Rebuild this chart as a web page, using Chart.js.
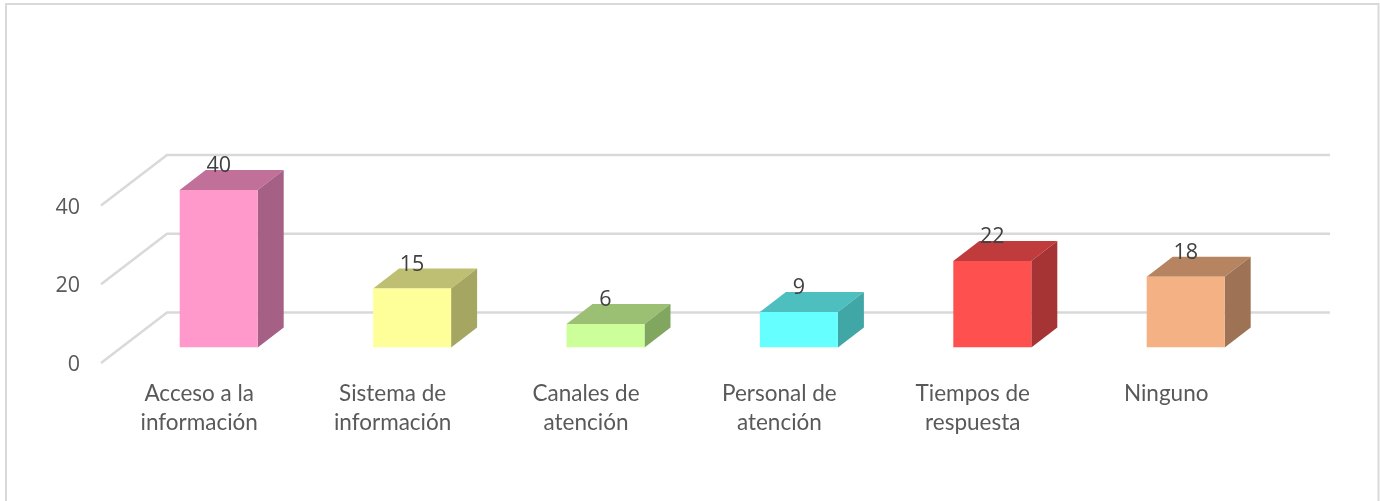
<!DOCTYPE html>
<html>
<head>
<meta charset="utf-8">
<style>
  html, body { margin: 0; padding: 0; background: #fff; overflow: hidden; }
  canvas { display: block; }
</style>
<script src="https://cdn.jsdelivr.net/npm/chart.js@4"></script>
</head>
<body>
<canvas id="chart" width="1380" height="501"></canvas>
<script>
const categories = [
    ['Acceso a la', 'información'],
    ['Sistema de', 'información'],
    ['Canales de', 'atención'],
    ['Personal de', 'atención'],
    ['Tiempos de', 'respuesta'],
    ['Ninguno']
];
const values = [40, 15, 6, 9, 22, 18];
const frontColors = ['#FF99CC', '#FFFF99', '#CCFF99', '#66FFFF', '#FF5050', '#F4B183'];
const topColors = ['#C07099', '#BFBF73', '#9BC073', '#4DBFBF', '#C03C3C', '#B78462'];
const sideColors = ['#A65F85', '#A6A663', '#80A660', '#40A6A6', '#A63434', '#9E7355'];

const FONT = 'Lato, sans-serif';
// Lato digits come out too wide and flat next to the original
const NUM_FONT = '"Open Sans", sans-serif';
// floor depth of the fake 3d box
const wallDx = 66, wallDy = -50.5, wallOverhang = 2.6;
// bar sits inside the floor, this far from the front edge
const barDx = 21, barDy = -15.5;
const barDepthX = 26, barDepthY = -20;

function poly(ctx, color, pts) {
    ctx.fillStyle = color;
    ctx.beginPath();
    pts.forEach((p, i) => i ? ctx.lineTo(p[0], p[1]) : ctx.moveTo(p[0], p[1]));
    ctx.closePath();
    ctx.fill();
}

const box3d = {
    id: 'box3d',
    beforeDraw(chart) {
        // outer frame of the picture, bottom edge is cut off
        const ctx = chart.ctx;
        ctx.save();
        ctx.strokeStyle = '#d9d9d9';
        ctx.lineWidth = 2;
        ctx.beginPath();
        ctx.moveTo(6, 501);
        ctx.lineTo(6, 4);
        ctx.lineTo(1378.5, 4);
        ctx.lineTo(1378.5, 501);
        ctx.stroke();
        ctx.restore();
    },
    beforeDatasetsDraw(chart) {
        const ctx = chart.ctx;
        const yScale = chart.scales.y;
        const area = chart.chartArea;
        ctx.save();
        // walls
        ctx.strokeStyle = '#d9d9d9';
        ctx.lineWidth = 2.5;
        yScale.ticks.forEach(t => {
            const y = yScale.getPixelForValue(t.value);
            ctx.beginPath();
            ctx.moveTo(area.left, y);
            ctx.lineTo(area.left + wallDx, y + wallDy);
            ctx.lineTo(area.right + wallDx + wallOverhang, y + wallDy);
            ctx.stroke();
        });
        // top and side of each bar
        chart.getDatasetMeta(0).data.forEach((bar, i) => {
            const l = bar.x - bar.width / 2 + barDx;
            const r = bar.x + bar.width / 2 + barDx;
            const t = bar.y + barDy;
            const b = bar.base + barDy;
            poly(ctx, topColors[i], [[l, t], [r, t], [r + barDepthX, t + barDepthY], [l + barDepthX, t + barDepthY]]);
            poly(ctx, sideColors[i], [[r, t], [r + barDepthX, t + barDepthY], [r + barDepthX, b + barDepthY], [r, b]]);
        });
        // front faces are the library's own bars, moved onto the floor
        ctx.translate(barDx, barDy);
    },
    afterDatasetsDraw(chart) {
        const ctx = chart.ctx;
        ctx.restore();
        ctx.save();
        ctx.fillStyle = '#404040';
        ctx.font = '21.5px ' + NUM_FONT;
        ctx.textAlign = 'center';
        ctx.textBaseline = 'middle';
        chart.getDatasetMeta(0).data.forEach((bar, i) => {
            ctx.fillText(String(values[i]), bar.x + barDx, bar.y + barDy - 24);
        });
        ctx.restore();
    }
};

new Chart(document.getElementById('chart').getContext('2d'), {
    type: 'bar',
    data: {
        labels: categories,
        datasets: [{
            data: values,
            backgroundColor: frontColors,
            barPercentage: 0.4033,
            categoryPercentage: 1
        }]
    },
    options: {
        responsive: false,
        animation: false,
        layout: { padding: { top: 205.5, right: 118.6, left: 0, bottom: 0 } },
        plugins: { legend: { display: false }, tooltip: { enabled: false } },
        scales: {
            x: {
                grid: { display: false, drawTicks: false },
                border: { display: false },
                afterFit(scale) { scale.height = 138; },
                ticks: {
                    color: '#595959',
                    font: { family: FONT, size: 22.5, lineHeight: 1.29 },
                    padding: 16,
                    labelOffset: 1.5,
                    maxRotation: 0,
                    autoSkip: false
                }
            },
            y: {
                min: 0,
                max: 40,
                grid: { display: false, drawTicks: false },
                border: { display: false },
                afterFit(scale) { scale.width = 101; },
                ticks: {
                    stepSize: 20,
                    color: '#595959',
                    font: { family: NUM_FONT, size: 21.5 },
                    padding: 21,
                    labelOffset: 2
                }
            }
        }
    },
    plugins: [box3d]
});
</script>
</body>
</html>
